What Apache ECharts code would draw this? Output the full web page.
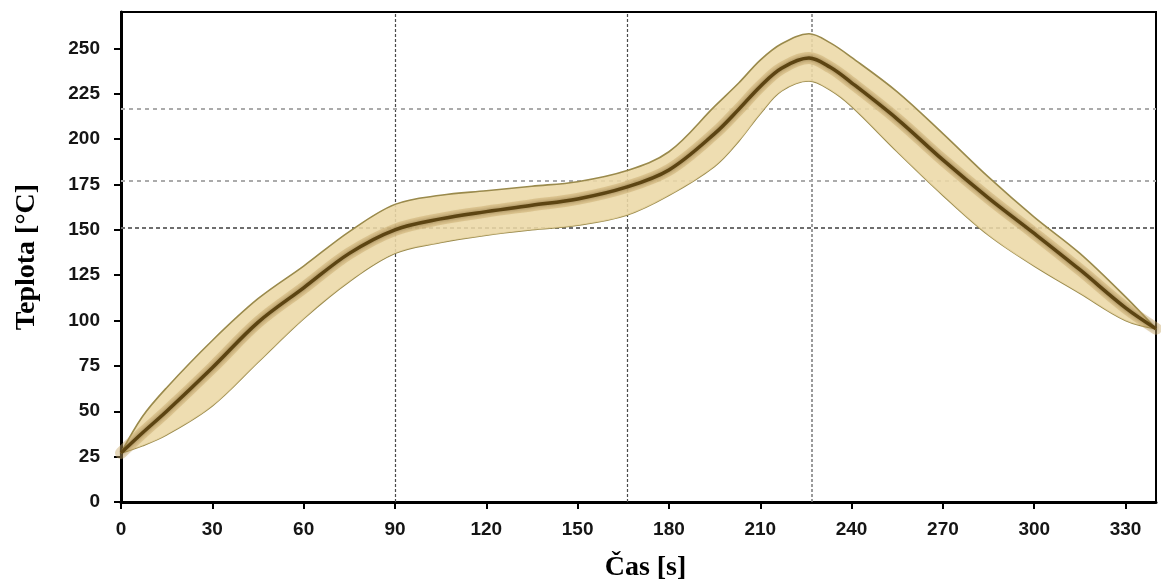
<!DOCTYPE html>
<html>
<head>
<meta charset="utf-8">
<script src="https://cdn.jsdelivr.net/npm/echarts@6/dist/echarts.min.js"></script>
<style>
html,body{margin:0;padding:0;background:#fff;}
#chart{width:1161px;height:587px;}
</style>
</head>
<body>
<div id="chart"></div>
<script>
// Data
var timeS   = [0, 7, 15, 30, 45, 60, 75, 90, 105, 120, 135, 150, 166, 180, 195, 203, 210, 217, 226, 233, 240, 255, 270, 285, 300, 315, 330, 340];
var tempMid = [27, 38, 50, 74, 99, 118, 137, 150, 156, 160, 163.5, 167, 173.5, 183, 203, 216.5, 229, 239, 244.6, 239.5, 231, 211, 188.5, 167.5, 148, 128, 107, 95.5];
var tempUp  = [27, 47, 63, 89, 112, 130, 149, 164, 169, 171.5, 174, 176.5, 182.5, 193, 218, 231, 243.5, 252.5, 258, 253, 245, 226, 203, 179, 157, 137, 113, 95.5];
var tempLow = [27, 31, 37, 53, 77, 101, 121.5, 137, 143, 147, 150, 152.5, 158, 169, 185, 199, 214, 226.5, 232, 227, 218, 193, 169, 147, 130, 115, 100, 95.5];

var xTicks = [0, 30, 60, 90, 120, 150, 180, 210, 240, 270, 300, 330];
var yTicks = [0, 25, 50, 75, 100, 125, 150, 175, 200, 225, 250];
var refX = [90, 166.3, 227];
var refY = [151, 177, 216.5];

// rows are [temperature, time] so that stacking acts on the temperature column
function rows(ys){ return timeS.map(function(x,i){ return [ys[i], x]; }); }
var widthVals = tempUp.map(function(u,i){ return u - tempLow[i]; });

var chart = echarts.init(document.getElementById('chart'), null, {renderer:'canvas'});

var tickFont = {fontFamily:'"Liberation Sans", Arial, sans-serif', fontWeight:'bold', fontSize:19, color:'#151515'};

var markData = [
  {xAxis: refX[0], lineStyle:{color:'#4a4a4a', width:1.2, type:[3,2]}},
  {xAxis: refX[1], lineStyle:{color:'#4a4a4a', width:1.2, type:[3,2]}},
  {xAxis: refX[2], lineStyle:{color:'#7a7a7a', width:1.5, type:[3,2]}},
  {yAxis: refY[0], lineStyle:{color:'#6e6e6e', width:2, type:[4,3]}},
  {yAxis: refY[1], lineStyle:{color:'#ababab', width:2, type:[4,4]}},
  {yAxis: refY[2], lineStyle:{color:'#ababab', width:2, type:[4,4]}}
];

var enc = {x:1, y:0};

var option = {
  animation:false,
  grid:{left:121, right:5, top:12, bottom:82, show:true, borderColor:'#000', borderWidth:2, backgroundColor:'transparent'},
  xAxis:{
    type:'value', min:0, max:340, interval:30,
    name:'Čas [s]', nameLocation:'middle', nameGap:52,
    nameTextStyle:{fontFamily:'"Liberation Serif","Times New Roman",serif', fontWeight:'bold', fontSize:28, color:'#000', padding:[0,0,0,14]},
    axisLine:{show:true, onZero:false, lineStyle:{color:'#000', width:3}},
    axisTick:{show:true, length:7, lineStyle:{color:'#000', width:2}, customValues:xTicks},
    axisLabel:Object.assign({margin:18, customValues:xTicks}, tickFont),
    splitLine:{show:false}
  },
  yAxis:{
    type:'value', min:0, max:270, interval:25,
    name:'Teplota [°C]', nameLocation:'middle', nameGap:80,
    nameTextStyle:{fontFamily:'"Liberation Serif","Times New Roman",serif', fontWeight:'bold', fontSize:28, color:'#000'},
    axisLine:{show:true, onZero:false, lineStyle:{color:'#000', width:3}},
    axisTick:{show:true, length:7, lineStyle:{color:'#000', width:2}, customValues:yTicks},
    axisLabel:Object.assign({margin:21, customValues:yTicks}, tickFont),
    splitLine:{show:false}
  },
  series:[
    {
      name:'ref', type:'line', data:[], z:1, silent:true,
      markLine:{z:1, silent:true, symbol:'none', label:{show:false}, data:markData}
    },
    {
      name:'lower', type:'line', stack:'band', z:2, smooth:0.35, symbol:'none', silent:true,
      encode:enc, data:rows(tempLow),
      lineStyle:{color:'#9a8a4c', width:1.6}
    },
    {
      name:'band', type:'line', stack:'band', z:3, smooth:0.35, symbol:'none', silent:true,
      encode:enc, data:rows(widthVals),
      lineStyle:{color:'#9a8a4c', width:1.6},
      areaStyle:{color:'#ecd8a6', opacity:0.88}
    },
    {
      name:'core', type:'line', z:4, smooth:0.35, symbol:'none', silent:true,
      encode:enc, data:rows(tempMid),
      lineStyle:{color:'rgba(200,168,105,0.45)', width:12, cap:'round'}
    },
    {
      name:'mean', type:'line', z:5, smooth:0.35, symbol:'none', silent:true,
      encode:enc, data:rows(tempMid),
      lineStyle:{color:'#5c4412', width:3.5, shadowBlur:4, shadowColor:'rgba(80,55,10,0.6)'}
    }
  ]
};
chart.setOption(option);
</script>
</body>
</html>
